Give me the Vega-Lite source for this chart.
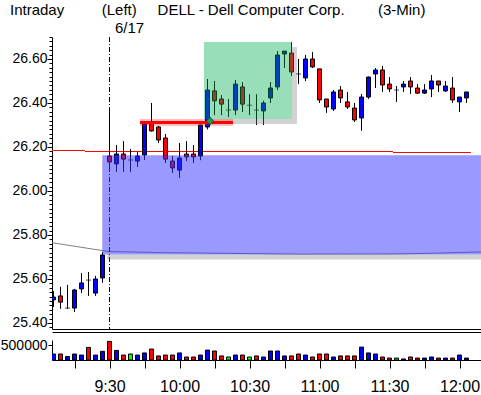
{
  "$schema": "https://vega.github.io/schema/vega-lite/v6.json",
  "background": "white",
  "padding": {"left": 0, "top": 3, "right": 0, "bottom": 0},
  "config": {
    "font": "Liberation Sans",
    "view": {"stroke": null},
    "axis": {"domainColor": "black", "tickColor": "black", "labelColor": "black", "grid": false, "title": null, "labelFlush": false, "labelOverlap": false}
  },
  "title": {
    "text": "Intraday\u00a0\u00a0\u00a0\u00a0\u00a0\u00a0\u00a0\u00a0\u00a0(Left)\u00a0\u00a0\u00a0\u00a0\u00a0DELL - Dell Computer Corp.\u00a0\u00a0\u00a0\u00a0\u00a0\u00a0\u00a0\u00a0(3-Min)",
    "anchor": "start", "frame": "group", "dx": -42, "offset": 2,
    "fontSize": 15, "fontWeight": "normal", "font": "Liberation Sans", "color": "black"
  },
  "datasets": {
    "candles": [
      {"t": 546, "o": 25.505, "h": 25.545, "l": 25.473, "c": 25.518, "v": 200000, "vd": "up"},
      {"t": 549, "o": 25.523, "h": 25.564, "l": 25.464, "c": 25.495, "v": 200000, "vd": "down"},
      {"t": 552, "o": 25.468, "h": 25.573, "l": 25.464, "c": 25.468, "v": 115000, "vd": "up"},
      {"t": 555, "o": 25.468, "h": 25.555, "l": 25.45, "c": 25.55, "v": 200000, "vd": "up"},
      {"t": 558, "o": 25.555, "h": 25.627, "l": 25.536, "c": 25.582, "v": 165000, "vd": "up"},
      {"t": 561, "o": 25.595, "h": 25.632, "l": 25.523, "c": 25.595, "v": 420000, "vd": "down"},
      {"t": 564, "o": 25.536, "h": 25.614, "l": 25.523, "c": 25.6, "v": 165000, "vd": "up"},
      {"t": 567, "o": 25.605, "h": 25.723, "l": 25.582, "c": 25.709, "v": 290000, "vd": "up"},
      {"t": 570, "o": 26.159, "h": 26.368, "l": 26.1, "c": 26.132, "v": 620000, "vd": "down"},
      {"t": 573, "o": 26.123, "h": 26.209, "l": 26.087, "c": 26.168, "v": 320000, "vd": "up"},
      {"t": 576, "o": 26.168, "h": 26.227, "l": 26.087, "c": 26.145, "v": 165000, "vd": "down"},
      {"t": 579, "o": 26.141, "h": 26.191, "l": 26.087, "c": 26.141, "v": 200000, "vd": "flat"},
      {"t": 582, "o": 26.136, "h": 26.177, "l": 26.109, "c": 26.159, "v": 165000, "vd": "up"},
      {"t": 585, "o": 26.164, "h": 26.31, "l": 26.141, "c": 26.309, "v": 235000, "vd": "up"},
      {"t": 588, "o": 26.309, "h": 26.4, "l": 26.27, "c": 26.273, "v": 365000, "vd": "down"},
      {"t": 591, "o": 26.291, "h": 26.295, "l": 26.218, "c": 26.232, "v": 135000, "vd": "down"},
      {"t": 594, "o": 26.241, "h": 26.259, "l": 26.127, "c": 26.145, "v": 165000, "vd": "down"},
      {"t": 597, "o": 26.136, "h": 26.159, "l": 26.082, "c": 26.105, "v": 165000, "vd": "down"},
      {"t": 600, "o": 26.095, "h": 26.218, "l": 26.059, "c": 26.15, "v": 235000, "vd": "up"},
      {"t": 603, "o": 26.168, "h": 26.227, "l": 26.136, "c": 26.155, "v": 100000, "vd": "down"},
      {"t": 606, "o": 26.168, "h": 26.209, "l": 26.127, "c": 26.155, "v": 100000, "vd": "down"},
      {"t": 609, "o": 26.159, "h": 26.3, "l": 26.14, "c": 26.3, "v": 165000, "vd": "up"},
      {"t": 612, "o": 26.291, "h": 26.509, "l": 26.28, "c": 26.459, "v": 330000, "vd": "up"},
      {"t": 615, "o": 26.455, "h": 26.5, "l": 26.345, "c": 26.41, "v": 300000, "vd": "down"},
      {"t": 618, "o": 26.418, "h": 26.436, "l": 26.345, "c": 26.395, "v": 135000, "vd": "down"},
      {"t": 621, "o": 26.368, "h": 26.418, "l": 26.336, "c": 26.368, "v": 100000, "vd": "flat"},
      {"t": 624, "o": 26.368, "h": 26.505, "l": 26.345, "c": 26.486, "v": 165000, "vd": "up"},
      {"t": 627, "o": 26.473, "h": 26.495, "l": 26.359, "c": 26.395, "v": 165000, "vd": "down"},
      {"t": 630, "o": 26.39, "h": 26.44, "l": 26.345, "c": 26.39, "v": 100000, "vd": "flat"},
      {"t": 633, "o": 26.368, "h": 26.44, "l": 26.3, "c": 26.368, "v": 135000, "vd": "down"},
      {"t": 636, "o": 26.364, "h": 26.41, "l": 26.3, "c": 26.4, "v": 100000, "vd": "up"},
      {"t": 639, "o": 26.423, "h": 26.495, "l": 26.4, "c": 26.468, "v": 300000, "vd": "up"},
      {"t": 642, "o": 26.473, "h": 26.636, "l": 26.459, "c": 26.618, "v": 300000, "vd": "up"},
      {"t": 645, "o": 26.623, "h": 26.636, "l": 26.559, "c": 26.636, "v": 135000, "vd": "up"},
      {"t": 648, "o": 26.627, "h": 26.677, "l": 26.523, "c": 26.541, "v": 135000, "vd": "down"},
      {"t": 651, "o": 26.532, "h": 26.6, "l": 26.486, "c": 26.532, "v": 200000, "vd": "down"},
      {"t": 654, "o": 26.514, "h": 26.618, "l": 26.5, "c": 26.6, "v": 165000, "vd": "up"},
      {"t": 657, "o": 26.6, "h": 26.632, "l": 26.559, "c": 26.564, "v": 100000, "vd": "down"},
      {"t": 660, "o": 26.555, "h": 26.555, "l": 26.4, "c": 26.414, "v": 200000, "vd": "down"},
      {"t": 663, "o": 26.418, "h": 26.418, "l": 26.355, "c": 26.382, "v": 200000, "vd": "down"},
      {"t": 666, "o": 26.373, "h": 26.459, "l": 26.364, "c": 26.45, "v": 100000, "vd": "up"},
      {"t": 669, "o": 26.459, "h": 26.477, "l": 26.4, "c": 26.423, "v": 135000, "vd": "down"},
      {"t": 672, "o": 26.405, "h": 26.45, "l": 26.373, "c": 26.382, "v": 135000, "vd": "down"},
      {"t": 675, "o": 26.377, "h": 26.4, "l": 26.314, "c": 26.323, "v": 135000, "vd": "down"},
      {"t": 678, "o": 26.332, "h": 26.441, "l": 26.273, "c": 26.427, "v": 430000, "vd": "up"},
      {"t": 681, "o": 26.427, "h": 26.52, "l": 26.418, "c": 26.518, "v": 235000, "vd": "up"},
      {"t": 684, "o": 26.532, "h": 26.559, "l": 26.468, "c": 26.55, "v": 200000, "vd": "up"},
      {"t": 687, "o": 26.55, "h": 26.568, "l": 26.45, "c": 26.482, "v": 100000, "vd": "down"},
      {"t": 690, "o": 26.486, "h": 26.518, "l": 26.45, "c": 26.464, "v": 65000, "vd": "down"},
      {"t": 693, "o": 26.459, "h": 26.477, "l": 26.405, "c": 26.459, "v": 65000, "vd": "flat"},
      {"t": 696, "o": 26.473, "h": 26.5, "l": 26.45, "c": 26.486, "v": 35000, "vd": "up"},
      {"t": 699, "o": 26.5, "h": 26.518, "l": 26.441, "c": 26.473, "v": 100000, "vd": "down"},
      {"t": 702, "o": 26.468, "h": 26.486, "l": 26.441, "c": 26.445, "v": 65000, "vd": "down"},
      {"t": 705, "o": 26.445, "h": 26.486, "l": 26.441, "c": 26.459, "v": 65000, "vd": "up"},
      {"t": 708, "o": 26.464, "h": 26.527, "l": 26.427, "c": 26.5, "v": 100000, "vd": "up"},
      {"t": 711, "o": 26.5, "h": 26.5, "l": 26.45, "c": 26.482, "v": 65000, "vd": "down"},
      {"t": 714, "o": 26.455, "h": 26.5, "l": 26.45, "c": 26.477, "v": 65000, "vd": "up"},
      {"t": 717, "o": 26.468, "h": 26.518, "l": 26.4, "c": 26.414, "v": 65000, "vd": "down"},
      {"t": 720, "o": 26.405, "h": 26.427, "l": 26.359, "c": 26.427, "v": 165000, "vd": "up"},
      {"t": 723, "o": 26.423, "h": 26.45, "l": 26.4, "c": 26.45, "v": 65000, "vd": "up"}
    ],
    "avg": [
      {"t": 545.36, "p": 25.765},
      {"t": 569.4, "p": 25.725},
      {"t": 591.6, "p": 25.72},
      {"t": 651.6, "p": 25.713},
      {"t": 694.5, "p": 25.714},
      {"t": 711.6, "p": 25.718},
      {"t": 729.2, "p": 25.723}
    ],
    "level": [
      {"t1": 545.36, "t2": 559.5, "p": 26.1841},
      {"t1": 559.5, "t2": 691.5, "p": 26.1795},
      {"t1": 691.5, "t2": 724.9, "p": 26.175}
    ],
    "zones": [
      {"zone": "range", "t1": 566.9, "t2": 729.2, "lo": 25.711, "hi": 26.163},
      {"zone": "box", "t1": 610.5, "t2": 648.2, "lo": 26.327, "hi": 26.677}
    ],
    "breakout": [{"t1": 583.07, "t2": 622.93, "p": 26.311}],
    "signal": [{"t": 613.07, "p": 26.318}],
    "open": [{"t": 570}]
  },
  "vconcat": [
    {
      "width": 429,
      "height": 292,
      "resolve": {"axis": {"x": "independent", "y": "independent"}},
      "layer": [
        {
          "data": {"name": "avg"},
          "mark": {"type": "line", "color": "#808080", "strokeWidth": 1},
          "encoding": {
            "x": {"field": "t", "type": "quantitative", "scale": {"domain": [545.357, 729.214], "nice": false, "zero": false, "padding": 0},
              "axis": {"orient": "top", "values": [570], "labelExpr": "'6/17'", "ticks": false, "tickSize": 0, "domain": false, "labelAlign": "left", "labelOffset": 5, "labelPadding": 2, "labelFontSize": 15}},
            "y": {"field": "p", "type": "quantitative", "scale": {"domain": [25.3727, 26.7], "nice": false, "zero": false, "padding": 0},
              "axis": {"orient": "left", "tickSize": 3, "labelPadding": 2, "labelFontSize": 14,
                "labelExpr": "round(datum.value * 100) % 20 == 0 ? format(datum.value, '.2f') : ''",
                "values": [25.38,25.4,25.42,25.44,25.46,25.48,25.5,25.52,25.54,25.56,25.58,25.6,25.62,25.64,25.66,25.68,25.7,25.72,25.74,25.76,25.78,25.8,25.82,25.84,25.86,25.88,25.9,25.92,25.94,25.96,25.98,26,26.02,26.04,26.06,26.08,26.1,26.12,26.14,26.16,26.18,26.2,26.22,26.24,26.26,26.28,26.3,26.32,26.34,26.36,26.38,26.4,26.42,26.44,26.46,26.48,26.5,26.52,26.54,26.56,26.58,26.6,26.62,26.64,26.66,26.68,26.7]}}
          }
        },
        {
          "data": {"name": "level"},
          "mark": {"type": "rule", "color": "#ff0000", "strokeWidth": 1},
          "encoding": {
            "x": {"field": "t1", "type": "quantitative", "scale": {"domain": [545.357, 729.214], "nice": false, "zero": false, "padding": 0},
              "axis": {"orient": "bottom", "ticks": false, "labels": false, "domain": true, "offset": 0}},
            "x2": {"field": "t2"},
            "y": {"field": "p", "type": "quantitative", "scale": {"domain": [25.3727, 26.7], "nice": false, "zero": false, "padding": 0},
              "axis": {"orient": "left", "domain": false, "labels": false, "ticks": true, "tickSize": 5, "values": [25.4, 25.6, 25.8, 26.0, 26.2, 26.4, 26.6]}}
          }
        },
        {
          "data": {"name": "open"},
          "mark": {"type": "rule", "color": "black", "strokeWidth": 1, "strokeDash": [5, 2, 1, 2]},
          "encoding": {
            "x": {"field": "t", "type": "quantitative", "scale": {"domain": [545.357, 729.214], "nice": false, "zero": false, "padding": 0},
              "axis": {"orient": "bottom", "ticks": false, "labels": false, "domain": true, "offset": 3}}
          }
        },
        {
          "data": {"name": "candles"},
          "mark": {"type": "rule", "color": "black", "strokeWidth": 1, "clip": true},
          "encoding": {
            "x": {"field": "t", "type": "quantitative", "axis": null},
            "y": {"field": "l", "type": "quantitative", "axis": null},
            "y2": {"field": "h"}
          }
        },
        {
          "data": {"name": "candles"},
          "transform": [{"filter": "datum.o != datum.c"}],
          "mark": {"type": "bar", "size": 4, "stroke": "black", "strokeWidth": 1, "clip": true},
          "encoding": {
            "x": {"field": "t", "type": "quantitative", "axis": null},
            "y": {"field": "o", "type": "quantitative", "axis": null},
            "y2": {"field": "c"},
            "fill": {"condition": {"test": "datum.c > datum.o", "value": "#0000ff"}, "value": "#ff0000"}
          }
        },
        {
          "data": {"name": "candles"},
          "transform": [{"filter": "datum.o == datum.c"}],
          "mark": {"type": "tick", "orient": "horizontal", "size": 5, "thickness": 1, "color": "black", "clip": true},
          "encoding": {
            "x": {"field": "t", "type": "quantitative", "axis": null},
            "y": {"field": "c", "type": "quantitative", "axis": null}
          }
        },
        {
          "data": {"name": "zones"},
          "transform": [{"filter": "datum.zone == 'range'"}],
          "mark": {"type": "rect", "fill": "#808080", "opacity": 0.35, "xOffset": 5, "y2Offset": 5},
          "encoding": {
            "x": {"field": "t1", "type": "quantitative", "axis": null},
            "x2": {"field": "t2"},
            "y": {"field": "lo", "type": "quantitative", "axis": null},
            "y2": {"field": "lo"}
          }
        },
        {
          "data": {"name": "zones"},
          "transform": [{"filter": "datum.zone == 'range'"}],
          "mark": {"type": "rect", "fill": "#3333ff", "opacity": 0.5},
          "encoding": {
            "x": {"field": "t1", "type": "quantitative", "axis": null},
            "x2": {"field": "t2"},
            "y": {"field": "lo", "type": "quantitative", "axis": null},
            "y2": {"field": "hi"}
          }
        },
        {
          "data": {"name": "zones"},
          "transform": [{"filter": "datum.zone == 'box'"}],
          "mark": {"type": "rect", "fill": "#808080", "opacity": 0.35, "x2Offset": 5, "yOffset": 5, "y2Offset": 5},
          "encoding": {
            "x": {"field": "t2", "type": "quantitative", "axis": null},
            "x2": {"field": "t2"},
            "y": {"field": "lo", "type": "quantitative", "axis": null},
            "y2": {"field": "hi"}
          }
        },
        {
          "data": {"name": "zones"},
          "transform": [{"filter": "datum.zone == 'box'"}],
          "mark": {"type": "rect", "fill": "#808080", "opacity": 0.35, "xOffset": 5, "y2Offset": 5},
          "encoding": {
            "x": {"field": "t1", "type": "quantitative", "axis": null},
            "x2": {"field": "t2"},
            "y": {"field": "lo", "type": "quantitative", "axis": null},
            "y2": {"field": "lo"}
          }
        },
        {
          "data": {"name": "zones"},
          "transform": [{"filter": "datum.zone == 'box'"}],
          "mark": {"type": "rect", "fill": "#00aa50", "opacity": 0.4},
          "encoding": {
            "x": {"field": "t1", "type": "quantitative", "axis": null},
            "x2": {"field": "t2"},
            "y": {"field": "lo", "type": "quantitative", "axis": null},
            "y2": {"field": "hi"}
          }
        },
        {
          "data": {"name": "breakout"},
          "mark": {"type": "rule", "color": "#ff0000", "strokeWidth": 7, "opacity": 0.25},
          "encoding": {
            "x": {"field": "t1", "type": "quantitative", "axis": null},
            "x2": {"field": "t2"},
            "y": {"field": "p", "type": "quantitative", "axis": null}
          }
        },
        {
          "data": {"name": "breakout"},
          "mark": {"type": "rule", "color": "#ff0000", "strokeWidth": 3},
          "encoding": {
            "x": {"field": "t1", "type": "quantitative", "axis": null},
            "x2": {"field": "t2"},
            "y": {"field": "p", "type": "quantitative", "axis": null}
          }
        },
        {
          "data": {"name": "signal"},
          "mark": {"type": "point", "shape": "diamond", "size": 55, "filled": true, "fill": "#1e9e50", "stroke": "#0b4d25", "strokeWidth": 1, "opacity": 1},
          "encoding": {
            "x": {"field": "t", "type": "quantitative", "axis": null},
            "y": {"field": "p", "type": "quantitative", "axis": null}
          }
        }
      ]
    },
    {
      "width": 429,
      "height": 20,
      "data": {"name": "candles"},
      "mark": {"type": "bar", "size": 4, "stroke": "black", "strokeWidth": 1, "clip": true},
      "encoding": {
        "x": {"field": "t", "type": "quantitative", "scale": {"domain": [545.357, 729.214], "nice": false, "zero": false, "padding": 0},
          "axis": {"orient": "bottom", "values": [555, 570, 585, 600, 615, 630, 645, 660, 675, 690, 705, 720], "tickSize": 8, "labelPadding": 10, "labelFontSize": 16,
            "labelExpr": "datum.value % 30 == 0 ? floor(datum.value / 60) + ':' + (datum.value % 60 == 0 ? '00' : '30') : ''"}},
        "y": {"field": "v", "type": "quantitative", "scale": {"domain": [0, 666667], "nice": false, "padding": 0},
          "axis": {"values": [500000], "format": "d", "tickSize": 4, "labelPadding": 1, "labelFontSize": 14}},
        "fill": {"field": "vd", "type": "nominal", "scale": {"domain": ["up", "down", "flat"], "range": ["#0000ff", "#ff0000", "#00ff00"]}, "legend": null}
      }
    }
  ],
  "spacing": 11,
  "bounds": "flush"
}
